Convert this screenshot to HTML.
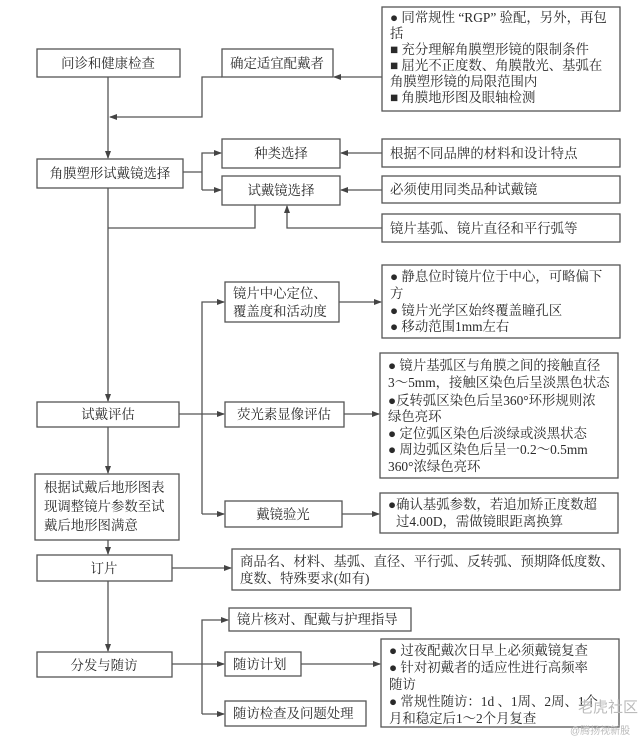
<!DOCTYPE html>
<html><head><meta charset="utf-8"><style>
html,body{margin:0;padding:0;background:#fff}
svg{display:block}
text{font-family:"Liberation Serif","Noto Serif CJK SC",serif;font-size:13.4px;fill:#2a2a2a}
rect{fill:#fff;stroke:#555;stroke-width:1.3}
line,polyline{stroke:#555;stroke-width:1.3;fill:none}
</style></head><body>
<svg width="640" height="740" viewBox="0 0 640 740" xmlns="http://www.w3.org/2000/svg">
<defs><marker id="a" markerWidth="8" markerHeight="6" refX="7" refY="3" orient="auto" markerUnits="userSpaceOnUse"><path d="M0,0 L8,3 L0,6 z" fill="#444"/></marker></defs>

<rect x="37" y="49" width="143" height="28"/><text x="108" y="68" text-anchor="middle">问诊和健康检查</text>
<rect x="37" y="159" width="146" height="29"/><text x="110" y="178" text-anchor="middle">角膜塑形试戴镜选择</text>
<rect x="37" y="402" width="142" height="25"/><text x="108" y="419" text-anchor="middle">试戴评估</text>
<rect x="35" y="474" width="144" height="66"/>
<text x="44" y="492">根据试戴后地形图表</text><text x="44" y="511">现调整镜片参数至试</text><text x="44" y="530">戴后地形图满意</text>
<rect x="37" y="555" width="135" height="26"/><text x="104" y="573" text-anchor="middle">订片</text>
<rect x="37" y="652" width="135" height="25"/><text x="104" y="670" text-anchor="middle">分发与随访</text>

<rect x="222" y="49" width="111" height="28"/><text x="277" y="68" text-anchor="middle">确定适宜配戴者</text>
<rect x="222" y="139" width="118" height="29"/><text x="281" y="158" text-anchor="middle">种类选择</text>
<rect x="222" y="176" width="118" height="29"/><text x="281" y="195" text-anchor="middle">试戴镜选择</text>
<rect x="225" y="282" width="114" height="40"/><text x="233" y="298">镜片中心定位、</text><text x="233" y="316">覆盖度和活动度</text>
<rect x="225" y="402" width="119" height="25"/><text x="284" y="419" text-anchor="middle">荧光素显像评估</text>
<rect x="225" y="501" width="117" height="26"/><text x="283" y="519" text-anchor="middle">戴镜验光</text>
<rect x="229" y="608" width="182" height="23"/><text x="237" y="624">镜片核对、配戴与护理指导</text>
<rect x="225" y="652" width="76" height="24"/><text x="233" y="669">随访计划</text>
<rect x="225" y="701" width="141" height="25"/><text x="233" y="718">随访检查及问题处理</text>

<rect x="382" y="7" width="238" height="104"/>
<text x="390" y="22">● 同常规性 “RGP” 验配，另外，再包</text>
<text x="390" y="38">括</text>
<text x="390" y="54">■ 充分理解角膜塑形镜的限制条件</text>
<text x="390" y="70">■ 屈光不正度数、角膜散光、基弧在</text>
<text x="390" y="86">角膜塑形镜的局限范围内</text>
<text x="390" y="102">■ 角膜地形图及眼轴检测</text>
<rect x="382" y="139" width="238" height="28"/><text x="390" y="158">根据不同品牌的材料和设计特点</text>
<rect x="382" y="176" width="238" height="27"/><text x="390" y="194">必须使用同类品种试戴镜</text>
<rect x="382" y="214" width="238" height="28"/><text x="390" y="233">镜片基弧、镜片直径和平行弧等</text>
<rect x="382" y="265" width="238" height="73"/>
<text x="390" y="281">● 静息位时镜片位于中心，可略偏下</text>
<text x="390" y="298">方</text>
<text x="390" y="315">● 镜片光学区始终覆盖瞳孔区</text>
<text x="390" y="331">● 移动范围1mm左右</text>
<rect x="380" y="353" width="238" height="125"/>
<text x="388" y="370">● 镜片基弧区与角膜之间的接触直径</text>
<text x="388" y="387">3～5mm，接触区染色后呈淡黑色状态</text>
<text x="388" y="405">●反转弧区染色后呈360°环形规则浓</text>
<text x="388" y="421">绿色亮环</text>
<text x="388" y="438">● 定位弧区染色后淡绿或淡黑状态</text>
<text x="388" y="454">● 周边弧区染色后呈一0.2～0.5mm</text>
<text x="388" y="471">360°浓绿色亮环</text>
<rect x="380" y="493" width="238" height="40"/>
<text x="388" y="509">●确认基弧参数，若追加矫正度数超</text>
<text x="396" y="526">过4.00D，需做镜眼距离换算</text>
<rect x="232" y="549" width="388" height="41"/>
<text x="240" y="566" textLength="374" lengthAdjust="spacingAndGlyphs">商品名、材料、基弧、直径、平行弧、反转弧、预期降低度数、</text>
<text x="240" y="583">度数、特殊要求(如有)</text>
<rect x="381" y="639" width="238" height="88"/>
<text x="389" y="655">● 过夜配戴次日早上必须戴镜复查</text>
<text x="389" y="672">● 针对初戴者的适应性进行高频率</text>
<text x="389" y="689">随访</text>
<text x="389" y="706">● 常规性随访：1d 、1周、2周、1个</text>
<text x="389" y="723">月和稳定后1～2个月复查</text>

<line x1="108" y1="77" x2="108" y2="158" marker-end="url(#a)"/>
<line x1="382" y1="77" x2="334" y2="77" marker-end="url(#a)"/>
<polyline points="222,77 202,77 202,117 110,117" marker-end="url(#a)"/>
<line x1="183" y1="172" x2="202" y2="172"/>
<polyline points="202,190 202,153 221,153" marker-end="url(#a)"/>
<line x1="202" y1="190" x2="221" y2="190" marker-end="url(#a)"/>
<line x1="382" y1="153" x2="341" y2="153" marker-end="url(#a)"/>
<line x1="382" y1="190" x2="341" y2="190" marker-end="url(#a)"/>
<polyline points="255,205 255,228 108,228"/>
<polyline points="382,228 287,228 287,206" marker-end="url(#a)"/>
<line x1="108" y1="188" x2="108" y2="401" marker-end="url(#a)"/>
<line x1="179" y1="414" x2="224" y2="414" marker-end="url(#a)"/>
<polyline points="202,514 202,302 224,302" marker-end="url(#a)"/>
<line x1="202" y1="514" x2="224" y2="514" marker-end="url(#a)"/>
<line x1="339" y1="302" x2="381" y2="302" marker-end="url(#a)"/>
<line x1="344" y1="414" x2="379" y2="414" marker-end="url(#a)"/>
<line x1="342" y1="514" x2="379" y2="514" marker-end="url(#a)"/>
<line x1="108" y1="427" x2="108" y2="473" marker-end="url(#a)"/>
<line x1="108" y1="540" x2="108" y2="554" marker-end="url(#a)"/>
<line x1="172" y1="568" x2="231" y2="568" marker-end="url(#a)"/>
<line x1="108" y1="581" x2="108" y2="651" marker-end="url(#a)"/>
<line x1="172" y1="664" x2="224" y2="664" marker-end="url(#a)"/>
<polyline points="202,714 202,620 228,620" marker-end="url(#a)"/>
<line x1="202" y1="714" x2="224" y2="714" marker-end="url(#a)"/>
<line x1="301" y1="664" x2="380" y2="664" marker-end="url(#a)"/>

<text x="578" y="712" style="font-size:15px;fill:#bbb;font-family:'Liberation Sans','Noto Sans CJK SC',sans-serif">老虎社区</text>
<text x="570" y="734" style="font-size:10px;fill:#bbb;font-family:'Liberation Sans','Noto Sans CJK SC',sans-serif">@腾扬视新股</text>
</svg>
</body></html>
